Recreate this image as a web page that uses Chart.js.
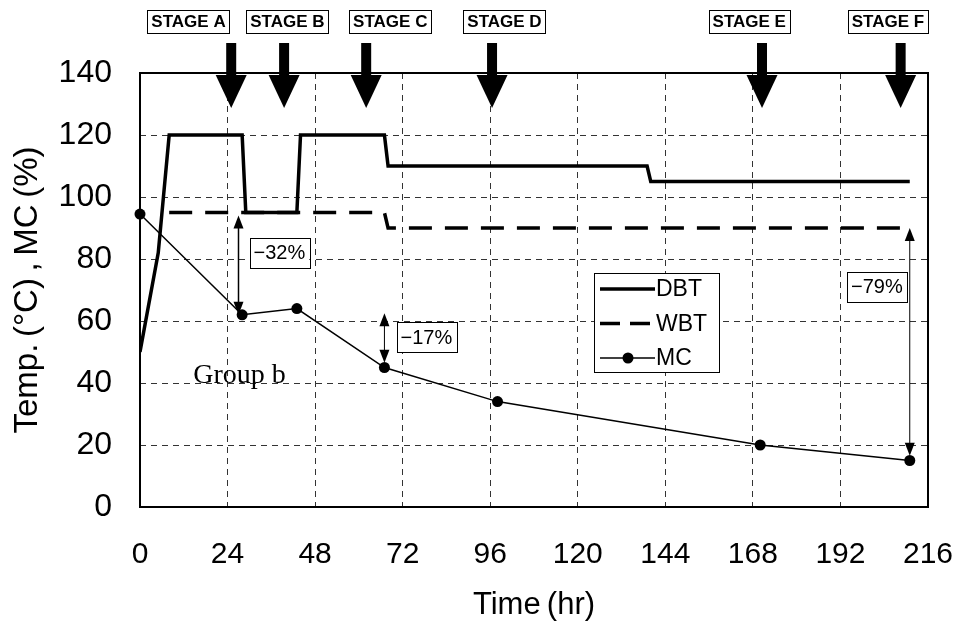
<!DOCTYPE html>
<html>
<head>
<meta charset="utf-8">
<script src="https://cdn.jsdelivr.net/npm/chart.js@4.4.1/dist/chart.umd.min.js"></script>
<style>
  html, body { margin: 0; padding: 0; background: #fff; }
  #wrap { width: 962px; height: 624px; }
</style>
</head>
<body>
<div id="wrap"><canvas id="c" width="962" height="624"></canvas></div>
<script>
// ---------- Data ----------
var dbtHr  = [0, 5, 8, 28, 29, 43, 44, 67, 68, 139, 140, 211];
var dbtVal = [50, 82, 120, 120, 95, 95, 120, 120, 110, 110, 105, 105];

var wbtHr  = [8, 67, 68, 211];
var wbtVal = [95, 95, 90, 90];

var mcHr  = [0, 28, 43, 67, 98, 170, 211];
var mcVal = [94.5, 62, 64, 45, 34, 20, 15];

var stageNames   = ['STAGE A', 'STAGE B', 'STAGE C', 'STAGE D', 'STAGE E', 'STAGE F'];
var stageArrowHr = [25, 39.5, 62, 96.5, 170.5, 208.5];
var stageLabelHr = [13.3, 40.4, 68.6, 99.9, 167, 205];

var dropNames  = ['\u221232%', '\u221217%', '\u221279%'];
var dropHr     = [27, 67, 211];
var dropFrom   = [94, 62.5, 90];
var dropTo     = [62, 46.5, 16.5];
var dropBoxHr  = [38.2, 78.5, 202];
var dropBoxVal = [82, 54.8, 71];

var groupText = 'Group b';
var groupHr = 27.3, groupVal = 43.2;

var xTicks = [0, 24, 48, 72, 96, 120, 144, 168, 192, 216];

function pts(xs, ys) {
  return xs.map(function (x, i) { return { x: x, y: ys[i] }; });
}

var sans = "'Liberation Sans', Arial, sans-serif";

// ---------- Helpers ----------
function arrowHead(ctx, x, y, dir, w, len) {
  ctx.beginPath();
  ctx.moveTo(x, y);
  ctx.lineTo(x - w / 2, y - dir * len);
  ctx.lineTo(x + w / 2, y - dir * len);
  ctx.closePath();
  ctx.fill();
}

function boxText(ctx, text, cx, cy, font, padX, h) {
  ctx.font = font;
  var w = ctx.measureText(text).width + padX * 2;
  ctx.fillStyle = '#fff';
  ctx.fillRect(cx - w / 2, cy - h / 2, w, h);
  ctx.strokeStyle = '#000';
  ctx.lineWidth = 1;
  ctx.strokeRect(Math.round(cx - w / 2) + 0.5, Math.round(cy - h / 2) + 0.5, Math.round(w), Math.round(h));
  ctx.fillStyle = '#000';
  ctx.textAlign = 'center';
  ctx.textBaseline = 'middle';
  ctx.fillText(text, cx, cy + 1);
}

var decor = {
  id: 'decor',
  afterDraw: function (chart) {
    var ctx = chart.ctx, a = chart.chartArea;
    var xs = chart.scales.x, ys = chart.scales.y;
    ctx.save();

    // frame
    ctx.strokeStyle = '#000';
    ctx.lineWidth = 2;
    ctx.strokeRect(a.left, a.top, a.right - a.left, a.bottom - a.top);

    // stage labels + big arrows
    stageNames.forEach(function (name, i) {
      boxText(ctx, name, xs.getPixelForValue(stageLabelHr[i]), 21, 'bold 17px ' + sans, 4, 23);
      var ax = xs.getPixelForValue(stageArrowHr[i]);
      ctx.fillStyle = '#000';
      ctx.fillRect(ax - 5, 43, 10, 34);
      arrowHead(ctx, ax, 108, 1, 31, 33);
    });

    // drop arrows and boxes
    ctx.lineWidth = 1.5;
    dropNames.forEach(function (name, i) {
      var x = xs.getPixelForValue(dropHr[i]);
      var y1 = ys.getPixelForValue(dropFrom[i]);
      var y2 = ys.getPixelForValue(dropTo[i]);
      ctx.strokeStyle = '#000';
      ctx.fillStyle = '#000';
      ctx.beginPath();
      ctx.moveTo(x, y1 + 10);
      ctx.lineTo(x, y2 - 10);
      ctx.stroke();
      arrowHead(ctx, x, y1, -1, 10, 13);
      arrowHead(ctx, x, y2, 1, 10, 13);
      boxText(ctx, name, xs.getPixelForValue(dropBoxHr[i]), ys.getPixelForValue(dropBoxVal[i]), '20px ' + sans, 4, 30);
    });

    // group label
    ctx.fillStyle = '#000';
    ctx.font = "28px 'Liberation Serif', 'Times New Roman', serif";
    ctx.textAlign = 'center';
    ctx.textBaseline = 'alphabetic';
    ctx.fillText(groupText, xs.getPixelForValue(groupHr), ys.getPixelForValue(groupVal) + 10);

    // legend
    var lx = 594, ly = 273, lw = 125, lh = 99;
    ctx.fillStyle = '#fff';
    ctx.fillRect(lx, ly, lw, lh);
    ctx.strokeStyle = '#000';
    ctx.lineWidth = 1;
    ctx.strokeRect(lx + 0.5, ly + 0.5, lw, lh);
    chart.data.datasets.forEach(function (ds, i) {
      var yy = ly + 16 + i * 34.5;
      ctx.strokeStyle = ds.borderColor;
      ctx.lineWidth = ds.borderWidth;
      ctx.setLineDash(ds.borderDash ? [20, 10] : []);
      ctx.beginPath();
      ctx.moveTo(lx + 6, yy);
      ctx.lineTo(lx + 61, yy);
      ctx.stroke();
      ctx.setLineDash([]);
      if (ds.pointRadius) {
        ctx.fillStyle = ds.pointBackgroundColor;
        ctx.beginPath();
        ctx.arc(lx + 34, yy, ds.pointRadius, 0, Math.PI * 2);
        ctx.fill();
      }
      ctx.fillStyle = '#000';
      ctx.font = '23px ' + sans;
      ctx.textAlign = 'left';
      ctx.textBaseline = 'middle';
      ctx.fillText(ds.label, lx + 62, yy + 1);
    });

    ctx.restore();
  }
};

new Chart(document.getElementById('c'), {
  type: 'line',
  data: {
    datasets: [
      { label: 'DBT', data: pts(dbtHr, dbtVal), borderColor: '#000', borderWidth: 3.5,
        pointRadius: 0, tension: 0, fill: false },
      { label: 'WBT', data: pts(wbtHr, wbtVal), borderColor: '#000', borderWidth: 3.5,
        borderDash: [23, 13], pointRadius: 0, tension: 0, fill: false },
      { label: 'MC', data: pts(mcHr, mcVal), borderColor: '#000', borderWidth: 1.5,
        pointRadius: 5.5, pointBackgroundColor: '#000', pointBorderWidth: 0,
        tension: 0, fill: false, clip: false },
    ],
  },
  options: {
    responsive: false,
    animation: false,
    layout: { padding: { top: 73, right: 34, left: 0, bottom: 0 } },
    scales: {
      x: {
        type: 'linear', min: 0, max: 216,
        afterBuildTicks: function (axis) { axis.ticks = xTicks.map(function (v) { return { value: v }; }); },
        afterFit: function (axis) { axis.height = 117; axis.paddingLeft = 0; axis.paddingRight = 0; },
        grid: { color: '#333', lineWidth: 1, drawTicks: false },
        border: { display: false, dash: [6, 5] },
        ticks: { color: '#000', padding: 30, maxRotation: 0, font: { family: sans, size: 30 } },
        title: { display: true, text: 'Time\u2009(hr)', color: '#000', padding: 0,
                 font: { family: sans, size: 31 } },
      },
      y: {
        min: 0, max: 140,
        ticks: { stepSize: 20, color: '#000', padding: 28, font: { family: sans, size: 32 } },
        afterFit: function (axis) { axis.width = 140; axis.paddingTop = 0; axis.paddingBottom = 0; },
        grid: { color: '#333', lineWidth: 1, drawTicks: false },
        border: { display: false, dash: [6, 5] },
        title: { display: true, text: 'Temp.\u2009(\u00b0C)\u2009,\u2009MC\u2009(%)', color: '#000',
                 padding: { top: 8, bottom: 0 }, font: { family: sans, size: 33 } },
      },
    },
    plugins: {
      legend: { display: false },
      tooltip: { enabled: false },
    },
  },
  plugins: [decor],
});
</script>
</body>
</html>
